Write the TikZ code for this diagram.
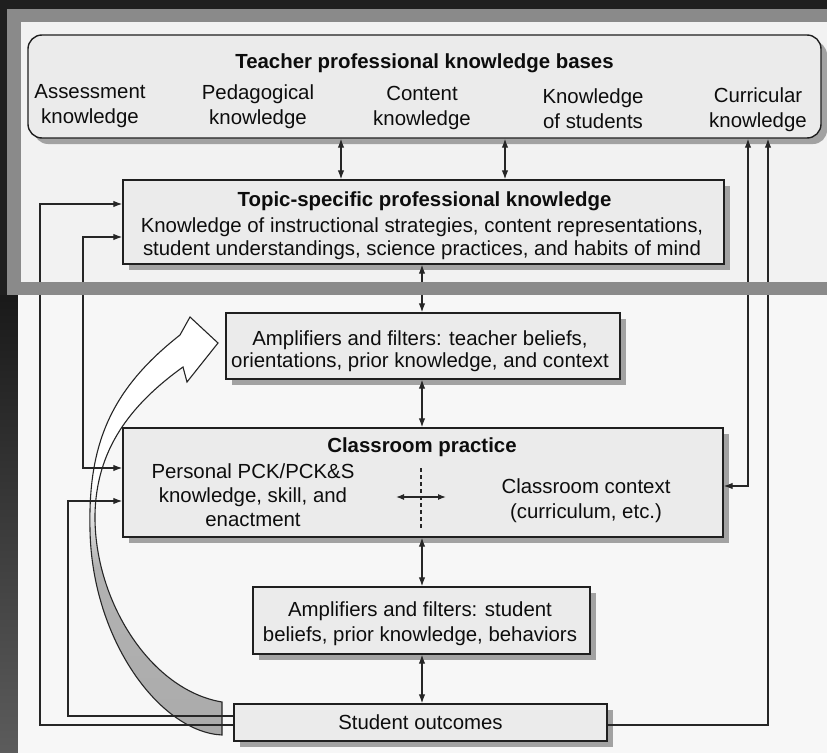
\documentclass[tikz,border=0pt]{standalone}
\usepackage{fontspec}
\setmainfont{Liberation Sans}
\usetikzlibrary{arrows.meta,shadows}
% grey at the foot of the feedback band, fading to white towards its head
\pgfdeclareverticalshading{bandfade}{100bp}{color(0bp)=(black!33); color(25bp)=(black!33); color(45bp)=(black!30); color(55bp)=(white); color(100bp)=(white)}
\begin{document}
\begin{tikzpicture}[x=1bp,y=-1bp,
  box/.style={draw=black!88, line width=1.4bp, fill=black!8, inner sep=0pt,
    drop shadow={shadow xshift=6bp, shadow yshift=-6bp, fill=black!42, opacity=0.85}},
  txt/.style={font=\fontsize{20.4bp}{23bp}\selectfont, text=black!95, align=center, inner sep=0pt},
  ttl/.style={txt, font=\fontsize{20.4bp}{23bp}\selectfont\bfseries},
  link/.style={draw=black!85, line width=1.2bp},
  arr/.style={link, -{Latex[length=9bp,width=6.5bp]}},
  darr/.style={link, {Latex[length=9bp,width=6.5bp]}-{Latex[length=9bp,width=6.5bp]}},
]
\useasboundingbox (0,0) rectangle (827,753);

% dark surround and paper
\fill[black!88] (0,0) rectangle (827,753);
\shade[top color=black!90, bottom color=black!64] (0,295) rectangle (18,753);
\fill[black!3] (18,295) rectangle (827,753);
\fill[black!5] (7,9) rectangle (827,295);

% boxes
\node[box, rounded corners=14bp, minimum width=793bp, minimum height=103bp] (bases) at (424.5,86.5) {};
\node[box, minimum width=601bp, minimum height=84bp] (topic) at (423.5,222) {};
\node[box, minimum width=394bp, minimum height=66bp] (ampT) at (423,346) {};
\node[box, minimum width=600bp, minimum height=109bp] (class) at (423,482.5) {};
\node[box, minimum width=337bp, minimum height=67bp] (ampS) at (421.5,620.5) {};
\node[box, minimum width=373bp, minimum height=37bp] (so) at (420.5,722.5) {};

% texts
\node[ttl] (basesT) at (424.5,63) {Teacher professional knowledge bases};
\node[txt, font=\fontsize{20.4bp}{25bp}\selectfont] (kA) at (90,106) {Assessment\\knowledge};
\node[txt, font=\fontsize{20.4bp}{25bp}\selectfont] (kP) at (258,106.5) {Pedagogical\\knowledge};
\node[txt, font=\fontsize{20.4bp}{25bp}\selectfont] (kC) at (422,107.5) {Content\\knowledge};
\node[txt, font=\fontsize{20.4bp}{25bp}\selectfont] (kS) at (593,108.5) {Knowledge\\of students};
\node[txt, font=\fontsize{20.4bp}{25bp}\selectfont] (kU) at (758,109.5) {Curricular\\knowledge};

\node[ttl] (topicT) at (424.5,201) {Topic-specific professional knowledge};
\node[txt] (topicB) at (422,238.5) {Knowledge of instructional strategies, content representations,\\student understandings, science practices, and habits of mind};

\node[txt, font=\fontsize{20.4bp}{22bp}\selectfont] (ampTt) at (420,351.5) {Amplifiers and filters: teacher beliefs,\\orientations, prior knowledge, and context};

\node[ttl] (classT) at (422,447) {Classroom practice};
\node[txt, font=\fontsize{20.4bp}{24bp}\selectfont] (classL) at (253,495.5) {Personal PCK/PCK\&S\\knowledge, skill, and\\enactment};
\node[txt, font=\fontsize{20.4bp}{25bp}\selectfont] (classR) at (586,500.5) {Classroom context\\(curriculum, etc.)};

\node[txt, font=\fontsize{20.4bp}{25bp}\selectfont] (ampSt) at (420,623.5) {Amplifiers and filters: student\\beliefs, prior knowledge, behaviors};

\node[txt] (soT) at (420.5,722) {Student outcomes};

% feedback band from student outcomes back to the teacher filters
\shadedraw[shading=bandfade, draw=black!85, line width=1.1bp]
  (222,735) .. controls (160,732) and (92,640) .. (90,530)
  .. controls (88,445) and (110,390) .. (180,335)
  -- (190,317) -- (218,343) -- (187,382) -- (183,367)
  .. controls (130,405) and (96,450) .. (95,515)
  .. controls (94,600) and (150,690) .. (222,702) -- cycle;

% routing points
\coordinate (cA) at (341,0);
\coordinate (cB) at (505,0);
\coordinate (cM) at (422,0);
\coordinate (l1t) at (40,204);
\coordinate (l1b) at (40,725);
\coordinate (l2t) at (83,237);
\coordinate (l2b) at (83,468);
\coordinate (l3t) at (68,501);
\coordinate (l3b) at (68,716);
\coordinate (r1b) at (748,486);
\coordinate (r2b) at (768,725);
\coordinate (dv1) at (421,468);
\coordinate (dv2) at (421,528);
\coordinate (hx1) at (396,497);
\coordinate (hx2) at (446,497);

% connectors
\draw[darr] (bases.south -| cA) -- (topic.north -| cA);
\draw[darr] (bases.south -| cB) -- (topic.north -| cB);
\draw[darr] (topic.south -| cM) -- (ampT.north -| cM);
\draw[darr] (ampT.south -| cM) -- (class.north -| cM);
\draw[darr] (class.south -| cM) -- (ampS.north -| cM);
\draw[darr] (ampS.south -| cM) -- (so.north -| cM);
\draw[arr] (so.west |- l1b) -- (l1b) -- (l1t) -- (topic.west |- l1t);
\draw[darr] (topic.west |- l2t) -- (l2t) -- (l2b) -- (class.west |- l2b);
\draw[arr] (so.west |- l3b) -- (l3b) -- (l3t) -- (class.west |- l3t);
\draw[darr] (bases.south -| r1b) -- (r1b) -- (class.east |- r1b);
\draw[arr] (so.east |- r2b) -- (r2b) -- (bases.south -| r2b);

% divider inside classroom practice
\draw[link, dash pattern=on 4bp off 3bp] (dv1) -- (dv2);
\draw[link, {Latex[length=8bp,width=6bp]}-{Latex[length=8bp,width=6bp]}] (hx1) -- (hx2);

% grey highlight frame around the knowledge section
\fill[black!46] (7,9) rectangle (827,22);
\fill[black!46] (7,282) rectangle (827,295);
\fill[black!46] (7,9) rectangle (21,295);
\end{tikzpicture}
\end{document}
